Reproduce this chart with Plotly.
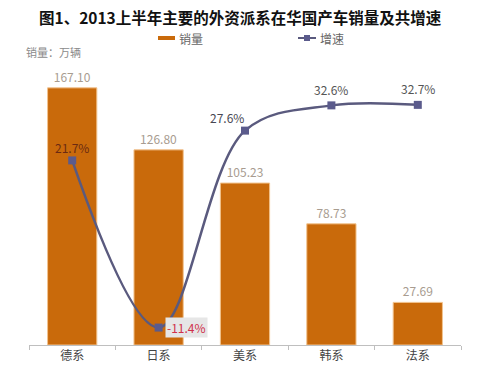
import plotly.graph_objects as go

categories = ["德系", "日系", "美系", "韩系", "法系"]
sales = [167.10, 126.80, 105.23, 78.73, 27.69]
growth = [21.7, -11.4, 27.6, 32.6, 32.7]
sales_labels = ["167.10", "126.80", "105.23", "78.73", "27.69"]
growth_labels = ["21.7%", "-11.4%", "27.6%", "32.6%", "32.7%"]

FONT = "Noto Sans CJK SC"
BAR_COLOR = "#C96A0B"
LINE_COLOR = "#5A5A7E"

W, H = 492, 375
L, R, T, B = 29, 31, 68, 30
pw, ph = W - L - R, H - T - B

def px(x):
    return (x - L) / pw

def py(y):
    return (H - B - y) / ph

fig = go.Figure()
fig.add_trace(go.Bar(
    x=categories, y=sales, name="销量",
    marker=dict(color=BAR_COLOR, line=dict(color="#F2C38E", width=1)),
    text=sales_labels, textposition="outside",
    textfont=dict(family=FONT, size=12, color="#A89C90"),
    cliponaxis=False, showlegend=False,
))
fig.add_trace(go.Scatter(
    x=categories, y=growth, name="增速", yaxis="y2",
    mode="lines+markers",
    line=dict(color=LINE_COLOR, width=2.5, shape="spline", smoothing=1.0),
    marker=dict(symbol="square", size=8, color="#5B5B8C"),
    showlegend=False, cliponaxis=False,
))

# growth labels
label_style = [
    dict(xshift=0, yshift=13, color="#6B2A12", bg=None),
    dict(xshift=28, yshift=0, color="#D0304A", bg="#E6E6E6"),
    dict(xshift=-18, yshift=13, color="#474752", bg=None),
    dict(xshift=0, yshift=16, color="#555555", bg=None),
    dict(xshift=0, yshift=16, color="#555555", bg=None),
]
for c, v, t, s in zip(categories, growth, growth_labels, label_style):
    ann = dict(x=c, y=v, xref="x", yref="y2", text=t, showarrow=False,
               xshift=s["xshift"], yshift=s["yshift"],
               xanchor="center", yanchor="middle",
               font=dict(family=FONT, size=12, color=s["color"]))
    if s["bg"]:
        ann["bgcolor"] = s["bg"]
    fig.add_annotation(**ann)

# title
fig.add_annotation(x=px(240), y=py(17), xref="paper", yref="paper",
                   xanchor="center", yanchor="middle",
                   text="<b>图1、2013上半年主要的外资派系在华国产车销量及共增速</b>",
                   showarrow=False, font=dict(family=FONT, size=15.5, color="#111111"))
# unit
fig.add_annotation(x=px(24), y=py(52), xref="paper", yref="paper",
                   xanchor="left", yanchor="middle",
                   text="销量：万辆", showarrow=False,
                   font=dict(family=FONT, size=11, color="#8A8A8A"))
# legend (manual)
fig.add_shape(type="rect", xref="paper", yref="paper",
              x0=px(158), x1=px(175), y0=py(40), y1=py(36),
              fillcolor=BAR_COLOR, line=dict(width=0))
fig.add_annotation(x=px(177), y=py(38), xref="paper", yref="paper",
                   xanchor="left", yanchor="middle",
                   text="销量", showarrow=False,
                   font=dict(family=FONT, size=12, color="#666666"))
fig.add_shape(type="line", xref="paper", yref="paper",
              x0=px(298), x1=px(316), y0=py(38), y1=py(38),
              line=dict(color=LINE_COLOR, width=2))
fig.add_shape(type="rect", xref="paper", yref="paper",
              x0=px(304), x1=px(310), y0=py(41), y1=py(35),
              fillcolor="#5B5B8C", line=dict(width=0))
fig.add_annotation(x=px(318), y=py(38), xref="paper", yref="paper",
                   xanchor="left", yanchor="middle",
                   text="增速", showarrow=False,
                   font=dict(family=FONT, size=12, color="#666666"))

fig.update_layout(
    width=W, height=H,
    margin=dict(l=L, r=R, t=T, b=B),
    paper_bgcolor="white", plot_bgcolor="white",
    bargap=0.43,
    font=dict(family=FONT),
    xaxis=dict(showline=True, linecolor="#BFBFBF", linewidth=1,
               ticks="outside", tickson="boundaries", ticklen=4, tickcolor="#BFBFBF",
               tickfont=dict(family=FONT, size=12, color="#444444"),
               showgrid=False),
    yaxis=dict(range=[0, 180], visible=False, showgrid=False),
    yaxis2=dict(range=[-14.85, 40], overlaying="y", side="right",
                visible=False, showgrid=False),
)

fig.write_html("out.html", config={"displayModeBar": False},
               post_script="document.body.style.margin='0';document.body.style.overflow='hidden';")
